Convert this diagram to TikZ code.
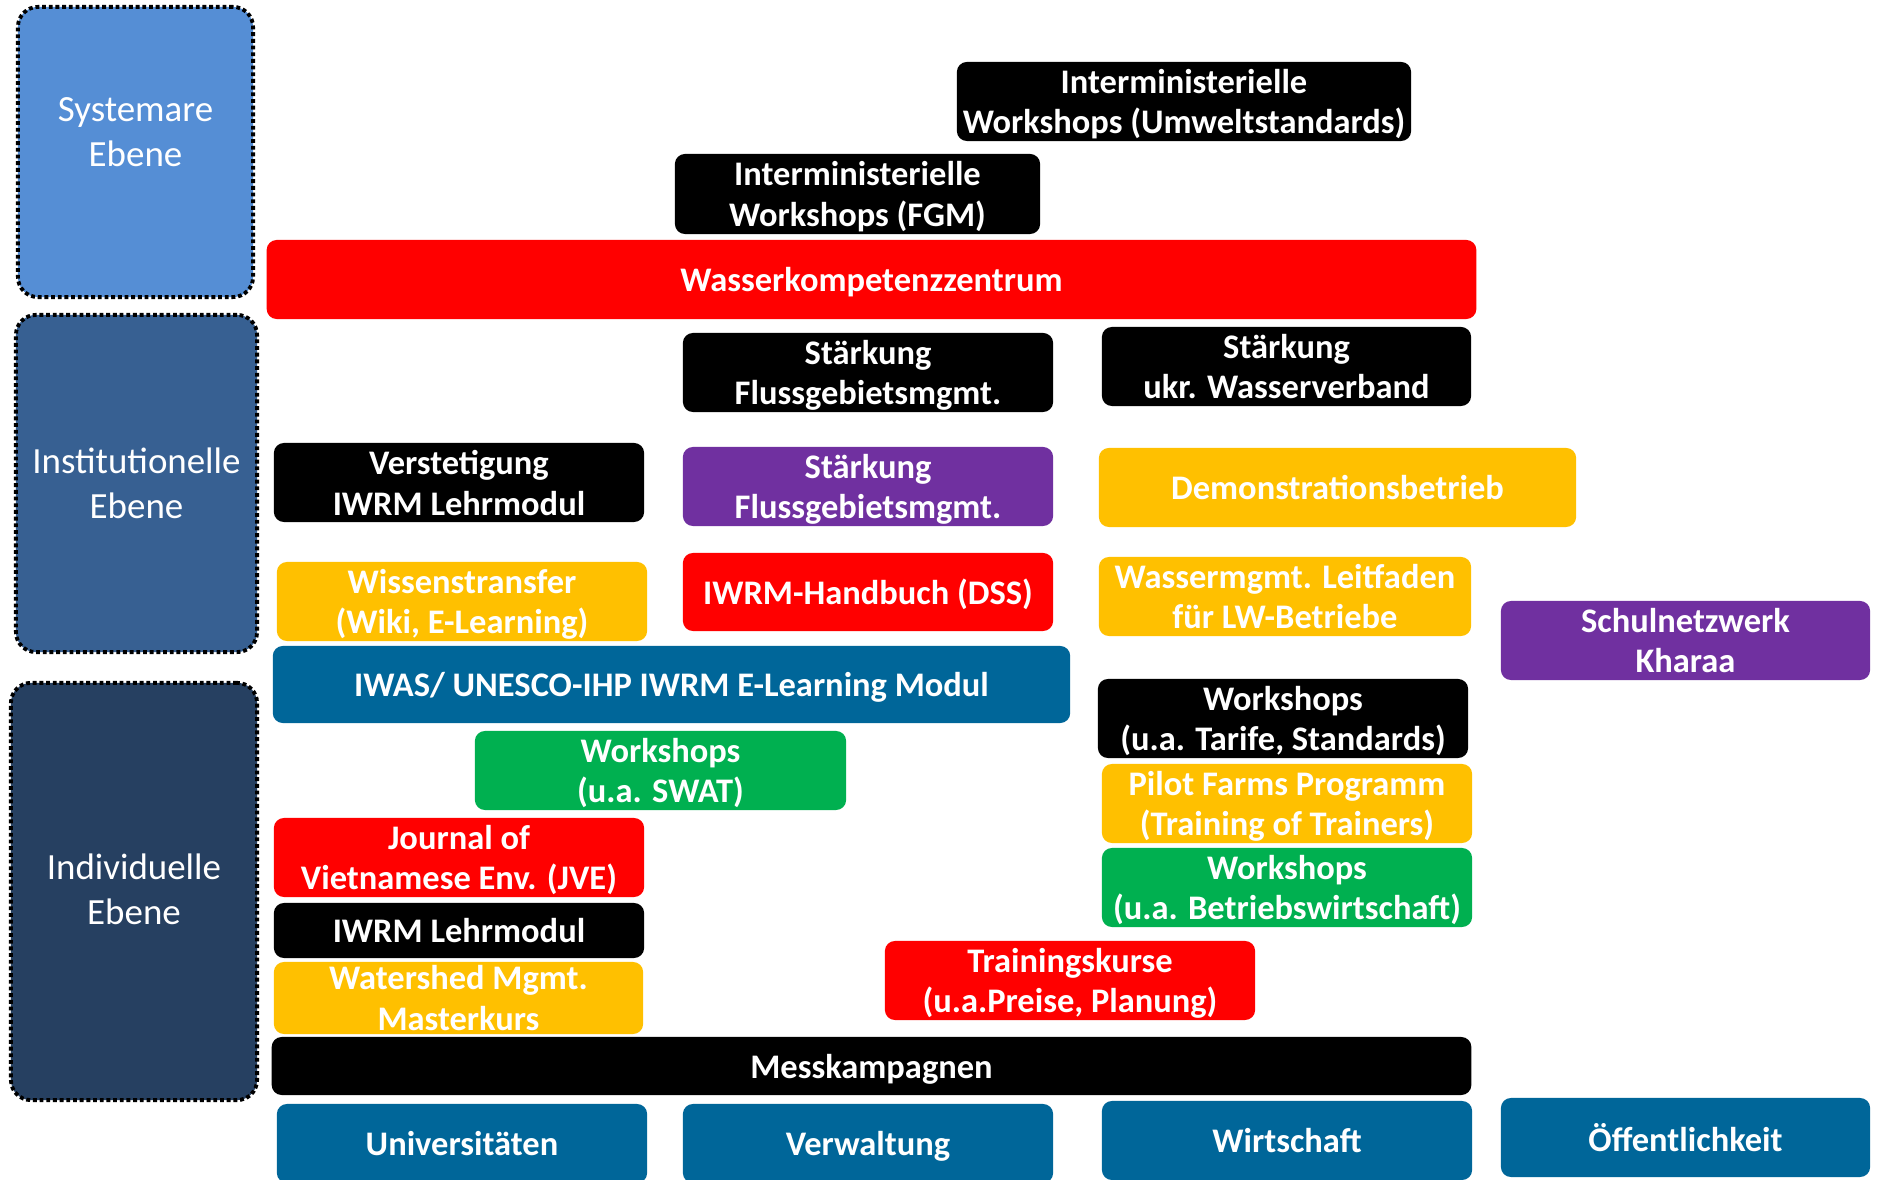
\documentclass[tikz,border=0pt]{standalone}
\usepackage{fontspec}
\setmainfont{Carlito}
\definecolor{sysblue}{RGB}{85,142,213}
\definecolor{instblue}{RGB}{55,96,146}
\definecolor{indivblue}{RGB}{38,64,97}
\definecolor{iwasblue}{RGB}{0,102,153}
\definecolor{orgyellow}{RGB}{255,192,0}
\definecolor{orgpurple}{RGB}{112,48,160}
\definecolor{orggreen}{RGB}{0,176,80}
\begin{document}
\begin{tikzpicture}[x=0.01cm,y=-0.01cm]
        % Styles
        \tikzstyle{level box}=[rounded corners=0.2cm,draw=black,line width=1.1pt,dash pattern=on 1.1pt off 0.8pt,inner sep=0pt]
        \tikzstyle{level text}=[text=white,align=center,inner sep=0pt,font=\fontsize{10.5}{12.9}\selectfont]
        \tikzstyle{action box}=[rounded corners=0.1cm,inner sep=0pt,text=white,align=center,font=\bfseries\fontsize{9.8}{11.6}\selectfont,minimum width=3.7cm,minimum height=0.79cm,text depth=0pt]
        \useasboundingbox (0,0) rectangle (1878,1180);
        %levels
        \node[level box,fill=sysblue,minimum width=2.35cm,minimum height=2.9cm] (sys) at (135.5,152) {};
        \node[level text] (sys label) at ([yshift=0.2cm]sys.center) {Systemare\\Ebene};
        \node[level box,fill=instblue,minimum width=2.41cm,minimum height=3.37cm] (inst) at (136.5,483.5) {};
        \node[level text] (inst label) at (inst.center) {Institutionelle\\Ebene};
        \node[level box,fill=indivblue,minimum width=2.46cm,minimum height=4.17cm] (indiv) at (134,891.5) {};
        \node[level text] (indiv label) at ([yshift=0.02cm]indiv.center) {Individuelle\\Ebene};
        %system level
        \node[action box,fill=black,minimum width=4.54cm] (umwelt) at (1184,101.5) {Interministerielle\\Workshops (Umweltstandards)};
        \node[action box,fill=black,minimum width=3.65cm,minimum height=0.8cm] (fgm) at (857.5,194) {Interministerielle\\Workshops (FGM)};
        \node[action box,fill=red,minimum width=12.09cm] (wkz) at (871.5,279.5) {Wasserkompetenzzentrum};
        %institutional level
        \node[action box,fill=black] (fluss a) at (868,372.5) {Stärkung\\Flussgebietsmgmt.};
        \node[action box,fill=black,minimum width=3.69cm] (ukr) at (1286.5,366.5) {Stärkung\\ukr. Wasserverband};
        \node[action box,fill=black] (verst) at (459,482.5) {Verstetigung\\IWRM Lehrmodul};
        \node[action box,fill=orgpurple] (fluss b) at (868,486.5) {Stärkung\\Flussgebietsmgmt.};
        \node[action box,fill=orgyellow,minimum width=4.77cm] (demo) at (1337.5,487.5) {Demonstrationsbetrieb};
        \node[action box,fill=orgyellow] (wissen) at (462,601.5) {Wissenstransfer\\(Wiki, E-Learning)};
        \node[action box,fill=red,minimum height=0.78cm] (handbuch) at (868,592) {IWRM-Handbuch (DSS)};
        \node[action box,fill=orgyellow,minimum width=3.72cm] (leitfaden) at (1285,596.5) {Wassermgmt. Leitfaden\\für LW-Betriebe};
        \node[action box,fill=orgpurple,minimum width=3.69cm] (schul) at (1685.5,640.5) {Schulnetzwerk\\Kharaa};
        %individual level
        \node[action box,fill=iwasblue,minimum width=7.97cm,minimum height=0.77cm] (iwas) at (671.5,684.5) {IWAS/ UNESCO-IHP IWRM E-Learning Modul};
        \node[action box,fill=black] (tarife) at (1283,718.5) {Workshops\\(u.a. Tarife, Standards)};
        \node[action box,fill=orggreen,minimum width=3.71cm] (swat) at (660.5,770.5) {Workshops\\(u.a. SWAT)};
        \node[action box,fill=orgyellow] (pilot) at (1287,803.5) {Pilot Farms Programm\\(Training of Trainers)};
        \node[action box,fill=red] (jve) at (459,857.5) {Journal of\\Vietnamese Env. (JVE)};
        \node[action box,fill=orggreen] (betrieb) at (1287,887.5) {Workshops\\(u.a. Betriebswirtschaft)};
        \node[action box,fill=black,minimum height=0.55cm] (lehrmodul) at (459,930.5) {IWRM Lehrmodul};
        \node[action box,fill=orgyellow,minimum width=3.69cm,minimum height=0.72cm] (watershed) at (458.5,998) {Watershed Mgmt.\\Masterkurs};
        \node[action box,fill=red] (training) at (1070,980.5) {Trainingskurse\\(u.a.Preise, Planung)};
        \node[action box,fill=black,minimum width=11.99cm,minimum height=0.58cm] (mess) at (871.5,1066) {Messkampagnen};
        %target groups
        \node[action box,fill=iwasblue] (uni) at (462,1143.5) {Universitäten};
        \node[action box,fill=iwasblue] (verw) at (868,1143.5) {Verwaltung};
        \node[action box,fill=iwasblue] (wirt) at (1287,1140.5) {Wirtschaft};
        \node[action box,fill=iwasblue,minimum width=3.69cm] (oeff) at (1685.5,1137.5) {Öffentlichkeit};
\end{tikzpicture}
\end{document}
